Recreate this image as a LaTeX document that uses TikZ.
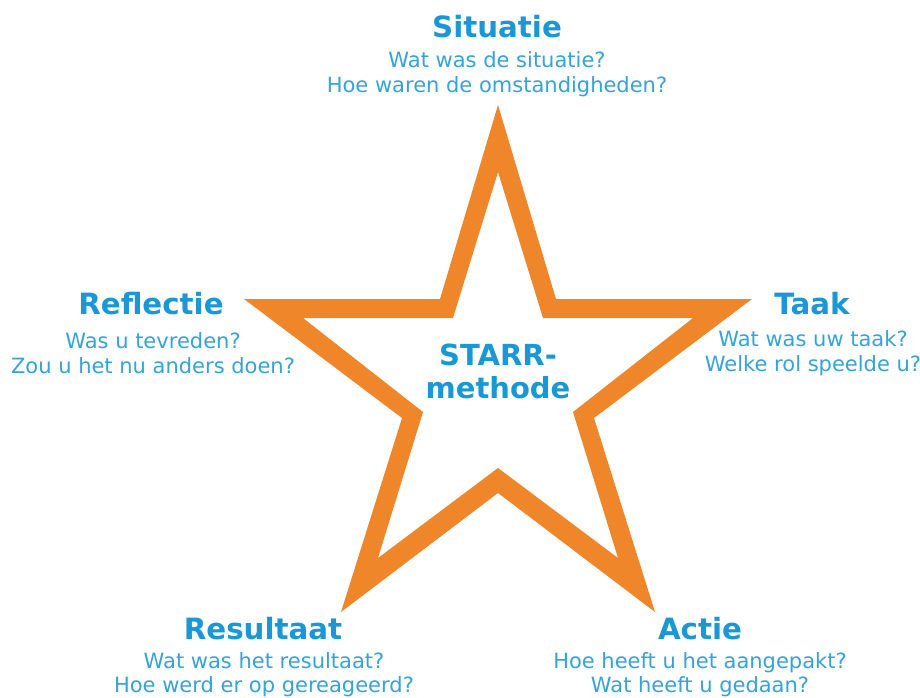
\documentclass[tikz,border=0pt]{standalone}
\usepackage{fontspec}
\setmainfont{DejaVu Sans}
\definecolor{starorange}{HTML}{F0862A}
\definecolor{titleblue}{HTML}{1A98D5}
\definecolor{textblue}{HTML}{35A3DB}
\begin{document}
\begin{tikzpicture}[x=1pt,y=-1pt,
  ttl/.style={text=titleblue,font=\fontsize{29.3}{33}\selectfont\bfseries,inner sep=0pt,anchor=center},
  body/.style={text=textblue,font=\fontsize{21}{25.5}\selectfont,align=center,inner sep=0pt,anchor=center},
  lowbody/.style={body,font=\fontsize{21}{24.5}\selectfont},
  centre/.style={text=titleblue,font=\fontsize{29}{33}\selectfont\bfseries,align=center,inner sep=0pt,anchor=center}]
\useasboundingbox[fill=white] (0,0) rectangle (920,698);
% star outline band
\fill[starorange,even odd rule]
  (498,105) -- (556,299) -- (752,299) -- (594,418) -- (655,612) -- (498,493) -- (341,612) -- (402,418) -- (244,299) -- (440,299) -- cycle
  (498,172) -- (543,318) -- (693,318) -- (573,412) -- (618,558) -- (498,468) -- (378,558) -- (423,412) -- (303,318) -- (453,318) -- cycle;
% centre
\node[centre] (c) at (498,371) {STARR-\\methode};
% Situatie
\node[ttl] (s) at (497,27) {Situatie};
\node[body] (sb) at (497,74) {Wat was de situatie?\\Hoe waren de omstandigheden?};
% Taak
\node[ttl] (t) at (812,304) {Taak};
\node[body] (tb) at (813,353) {Wat was uw taak?\\Welke rol speelde u?};
% Reflectie
\node[ttl] (r) at (151,304) {Reflectie};
\node[body] (rb) at (153,353) {Was u tevreden?\\Zou u het nu anders doen?};
% Resultaat
\node[ttl] (re) at (263,629) {Resultaat};
\node[lowbody] (reb) at (264,674.5) {Wat was het resultaat?\\Hoe werd er op gereageerd?};
% Actie
\node[ttl] (a) at (700,629) {Actie};
\node[lowbody] (ab) at (700,674.5) {Hoe heeft u het aangepakt?\\Wat heeft u gedaan?};
\end{tikzpicture}
\end{document}
